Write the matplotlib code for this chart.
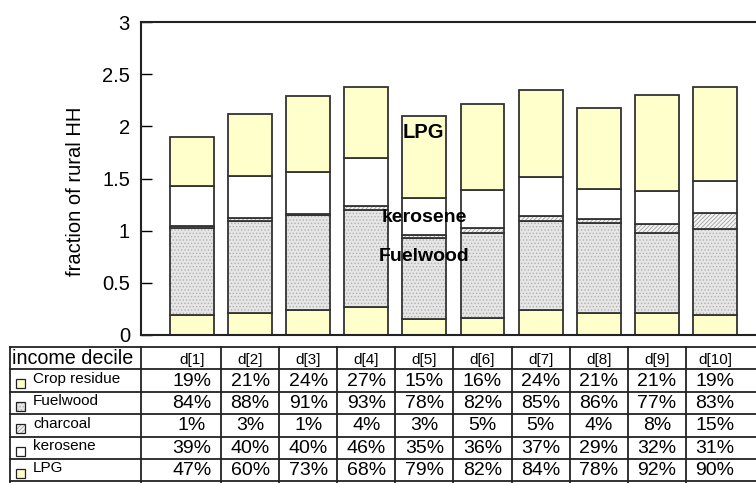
import matplotlib
matplotlib.use("Agg")
import matplotlib.pyplot as plt
from matplotlib.patches import Rectangle
import numpy as np

plt.rcParams['font.family'] = ['Liberation Sans', 'DejaVu Sans']
plt.rcParams['hatch.linewidth'] = 0.6

deciles = ['d[1]', 'd[2]', 'd[3]', 'd[4]', 'd[5]', 'd[6]', 'd[7]', 'd[8]', 'd[9]', 'd[10]']
fuels = ['Crop residue', 'Fuelwood', 'charcoal', 'kerosene', 'LPG']
crop_residue = [19, 21, 24, 27, 15, 16, 24, 21, 21, 19]
fuelwood = [84, 88, 91, 93, 78, 82, 85, 86, 77, 83]
charcoal = [1, 3, 1, 4, 3, 5, 5, 4, 8, 15]
kerosene = [39, 40, 40, 46, 35, 36, 37, 29, 32, 31]
lpg = [47, 60, 73, 68, 79, 82, 84, 78, 92, 90]
series = [crop_residue, fuelwood, charcoal, kerosene, lpg]
yticks = [0, 0.5, 1, 1.5, 2, 2.5, 3]
ytick_labels = ['0', '0.5', '1', '1.5', '2', '2.5', '3']

# fill, hatch, hatch colour for each fuel
styles = [('#ffffcc', None, None),
          ('#e6e6e6', '.....', '#b0b0b0'),
          ('#f4f4f4', '////////', '#a0a0a0'),
          ('#ffffff', None, None),
          ('#ffffcc', None, None)]
edge = '#333333'

W, H, DPI = 756, 483, 100
fig = plt.figure(figsize=(W / DPI, H / DPI), dpi=DPI)

# pixel layout of the reference
step = 58.1          # px between bar centres
c0 = 192.0           # px of first bar centre
ax_l, ax_r, ax_t, ax_b = 141, 760, 22, 335
xl = (ax_l - c0) / step
xr = (ax_r - c0) / step

ax = fig.add_axes([ax_l / W, 1 - ax_b / H, (ax_r - ax_l) / W, (ax_b - ax_t) / H])
x = np.arange(len(deciles))
bottom = np.zeros(len(deciles))
for vals, (fc, hatch, hc) in zip(series, styles):
    v = np.array(vals) / 100.0
    if hatch:
        ax.bar(x, v, 0.757, bottom=bottom, color=fc, hatch=hatch, edgecolor=hc, linewidth=0)
        ax.bar(x, v, 0.757, bottom=bottom, fill=False, edgecolor=edge, linewidth=1.3)
    else:
        ax.bar(x, v, 0.757, bottom=bottom, color=fc, edgecolor=edge, linewidth=1.3)
    bottom += v

ax.set_xlim(xl, xr)
ax.set_ylim(0, 3)
ax.set_xticks([])
ax.set_yticks(yticks)
ax.set_yticklabels(ytick_labels, fontsize=14.5)
ax.tick_params(axis='y', direction='in', length=8, width=1, pad=8)
for s in ax.spines.values():
    s.set_linewidth(1.5)
    s.set_color('#222222')
ax.set_ylabel('fraction of rural HH', fontsize=14.5)
ax.yaxis.set_label_coords(-0.090, 0.46)

ax.text(3.98, 1.94, 'LPG', fontsize=14.5, fontweight='bold', ha='center', va='center')
ax.text(3.99, 1.13, 'kerosene', fontsize=14, fontweight='bold', ha='center', va='center')
ax.text(3.99, 0.75, 'Fuelwood', fontsize=14, fontweight='bold', ha='center', va='center')

# data table under the chart
tb_l, tb_t, row_h = 10, 347, 22.4
tx0 = (tb_l - c0) / step
nrows = (H - tb_t) / row_h
tab = fig.add_axes([tb_l / W, 0, (ax_r - tb_l) / W, (H - tb_t) / H])
tab.set_xlim(tx0, xr)
tab.set_ylim(nrows, 0)
tab.axis('off')

for r in range(7):
    tab.plot([tx0, xr], [r, r], color='#222222', lw=1.3, clip_on=False)
vlines = [tx0, xl] + [i + 0.5 for i in range(9)]
for vx in vlines:
    tab.plot([vx, vx], [0, nrows], color='#222222', lw=1.3, clip_on=False)

tab.text(tx0 + 0.03, 0.5, 'income decile', fontsize=14.2, ha='left', va='center')
for i, d in enumerate(deciles):
    tab.text(i, 0.6, d, fontsize=11, ha='center', va='center')

key_w = 9 / step
for r, (name, vals, (fc, hatch, hc)) in enumerate(zip(fuels, series, styles)):
    yc = r + 1.5
    kx = tx0 + 6 / step
    tab.add_patch(Rectangle((kx, yc - 0.05), key_w, 0.4, facecolor=fc, hatch=hatch,
                            edgecolor=hc if hatch else edge, lw=0))
    tab.add_patch(Rectangle((kx, yc - 0.05), key_w, 0.4, fill=False, edgecolor='#222222', lw=0.9))
    tab.text(tx0 + 23 / step, yc - 0.08, name, fontsize=11, ha='left', va='center')
    for i, v in enumerate(vals):
        tab.text(i, yc + 0.02, '%d%%' % v, fontsize=14, ha='center', va='center')

fig.savefig('out.png', dpi=DPI)
